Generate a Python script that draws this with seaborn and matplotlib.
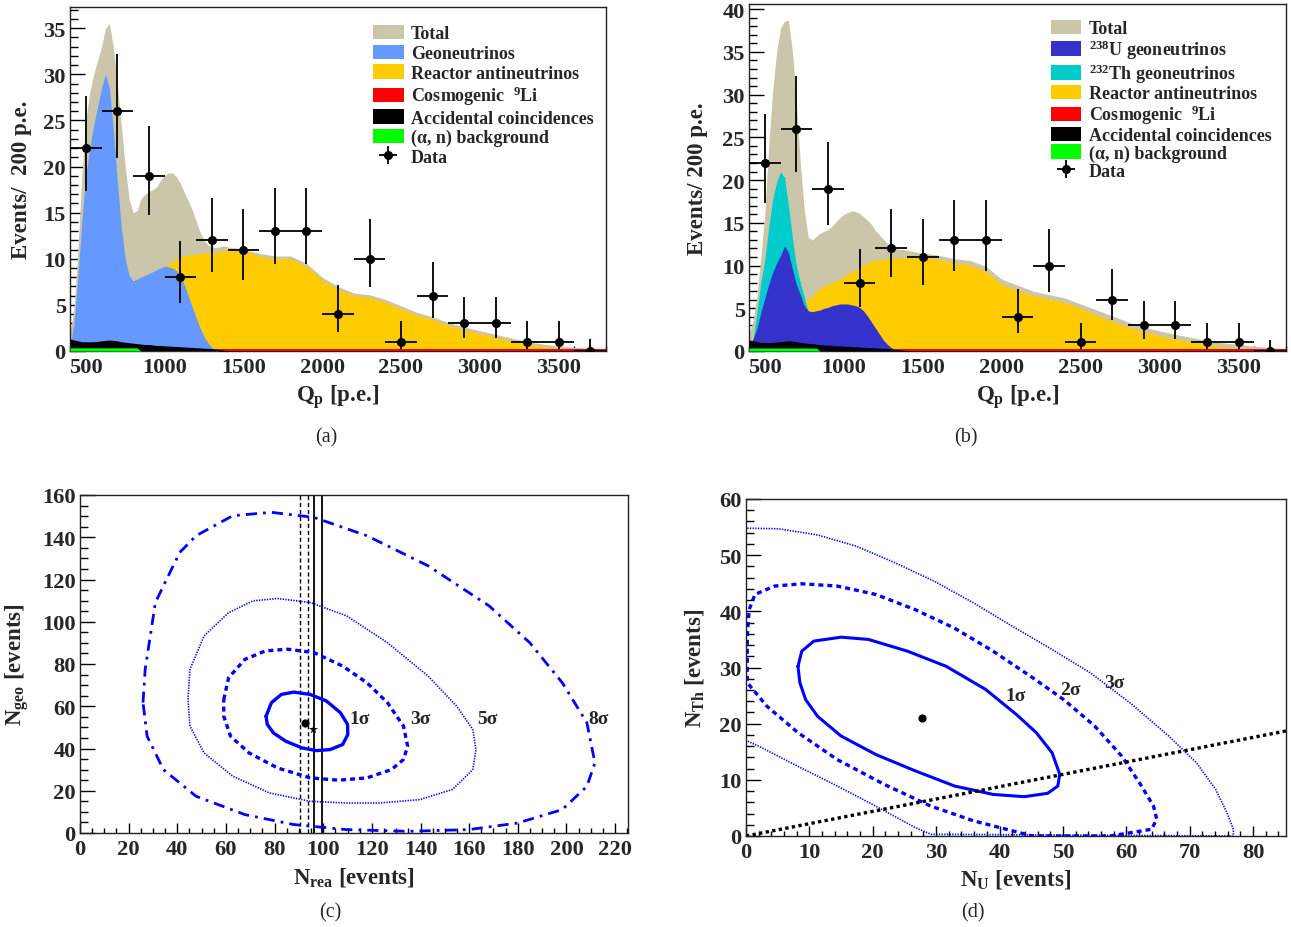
import matplotlib
matplotlib.use("Agg")
import matplotlib.pyplot as plt
import seaborn as sns
from matplotlib.ticker import MultipleLocator
from matplotlib.patches import Patch

# ------------------------------------------------------------------ data
q_pe = [400, 425, 450, 475, 500, 525, 550, 575, 600, 625, 650, 675, 700, 725, 750, 775,
        800, 825, 850, 875, 900, 925, 950, 975, 1000, 1025, 1050, 1075, 1100, 1125, 1150,
        1175, 1200, 1225, 1250, 1275, 1300, 1325, 1350, 1375, 1400, 1425, 1450, 1475, 1500,
        1600, 1700, 1800, 1900, 2000, 2100, 2200, 2300, 2400, 2500, 2600, 2700, 2800, 2900,
        3000, 3100, 3200, 3300, 3400, 3500, 3600, 3700, 3800]

# panel (a)
total_a = [2.0, 4.5, 11, 19, 25, 28, 30, 31.5, 33, 35, 35.5, 33, 29, 24.5, 20, 16.5,
           15, 15.2, 16.5, 17, 17.3, 17.5, 17.8, 18.5, 19, 19.3, 19.3, 18.9, 18.2, 17.2, 16.3,
           15.3, 14.1, 12.9, 12, 11.5, 11.3, 11.2, 11.3, 11.4, 11.3, 11.2, 11.2, 11.1, 11.0,
           10.6, 10.3, 10.3, 9.5, 8.0, 7.0, 6.3, 6.1, 5.6, 4.9, 4.2, 3.7, 3.1, 2.6,
           2.2, 1.8, 1.4, 1.0, 0.75, 0.55, 0.4, 0.3, 0.25]
reactor_a = [0.3, 0.6, 1.0, 1.4, 1.8, 2.2, 2.6, 3.0, 3.4, 3.8, 4.2, 4.7, 5.1, 5.5, 5.9, 6.3,
             6.6, 7.0, 7.3, 7.6, 7.9, 8.2, 8.5, 8.8, 9.1, 9.4, 9.7, 10.0, 10.2, 10.3, 10.4,
             10.5, 10.5, 10.6, 10.6, 10.7, 10.7, 10.7, 10.8, 10.9, 10.9, 10.9, 10.9, 10.8, 10.8,
             10.3, 10.0, 10.0, 9.2, 7.7, 6.7, 6.0, 5.8, 5.3, 4.6, 3.9, 3.4, 2.8, 2.3,
             1.9, 1.5, 1.1, 0.75, 0.5, 0.3, 0.15, 0.06, 0.02]
geo_a = [0.5, 3, 8, 14, 19, 22, 24.5, 26.5, 28.5, 30, 28.5, 24, 18.5, 13.5, 10, 8.2,
         7.6, 7.8, 8.0, 8.2, 8.4, 8.6, 8.8, 9.0, 9.2, 9.1, 9.0, 8.7, 8.0, 7.2, 6.0,
         4.8, 3.6, 2.5, 1.6, 0.9, 0.4, 0.15, 0, 0, 0, 0, 0, 0, 0,
         0, 0, 0, 0, 0, 0, 0, 0, 0, 0, 0, 0, 0, 0,
         0, 0, 0, 0, 0, 0, 0, 0, 0]

# backgrounds (shared by both spectra)
accidental = [1.3, 1.2, 1.1, 1.0, 1.0, 1.0, 1.0, 1.05, 1.1, 1.15, 1.2, 1.15, 1.1, 1.0, 0.95, 0.9,
              0.85, 0.8, 0.75, 0.7, 0.7, 0.65, 0.6, 0.6, 0.55, 0.55, 0.5, 0.5, 0.45, 0.45, 0.4,
              0.4, 0.35, 0.35, 0.3, 0.3, 0.25, 0.2, 0.15, 0.1, 0.05, 0.02, 0, 0, 0,
              0, 0, 0, 0, 0, 0, 0, 0, 0, 0, 0, 0, 0, 0,
              0, 0, 0, 0, 0, 0, 0, 0, 0]
li9 = [0.25, 0.25, 0.25, 0.25, 0.25, 0.25, 0.25, 0.25, 0.25, 0.25, 0.25, 0.25, 0.25, 0.25, 0.25, 0.25,
       0.25, 0.25, 0.25, 0.25, 0.25, 0.25, 0.25, 0.25, 0.25, 0.25, 0.25, 0.25, 0.25, 0.25, 0.25,
       0.25, 0.25, 0.25, 0.25, 0.25, 0.25, 0.25, 0.25, 0.25, 0.25, 0.25, 0.25, 0.25, 0.25,
       0.25, 0.25, 0.25, 0.25, 0.25, 0.25, 0.25, 0.25, 0.25, 0.25, 0.25, 0.25, 0.25, 0.25,
       0.25, 0.25, 0.25, 0.25, 0.25, 0.25, 0.25, 0.25, 0.25]
alpha_n = [0.35, 0.35, 0.35, 0.35, 0.35, 0.35, 0.35, 0.35, 0.35, 0.35, 0.35, 0.35, 0.35, 0.35, 0.35, 0.35,
           0.35, 0.35, 0, 0, 0, 0, 0, 0, 0, 0, 0, 0, 0, 0, 0,
           0, 0, 0, 0, 0, 0, 0, 0, 0, 0, 0, 0, 0, 0,
           0, 0, 0, 0, 0, 0, 0, 0, 0, 0, 0, 0, 0, 0,
           0, 0, 0, 0, 0, 0, 0, 0, 0]

# panel (b)
total_b = [2.0, 3.5, 6.5, 11, 16, 24, 30.5, 35, 37.8, 38.6, 38.7, 35, 29.3, 22, 16.5, 13.3,
           13.0, 13.4, 13.8, 14.0, 14.2, 14.6, 15.1, 15.6, 16.0, 16.2, 16.4, 16.3, 16.1, 15.7, 15.3,
           14.8, 14.1, 13.6, 13.1, 12.6, 12.2, 12.0, 11.9, 11.9, 11.8, 11.7, 11.6, 11.5, 11.5,
           11.2, 10.8, 10.6, 9.9, 8.4, 7.7, 7.0, 6.6, 6.2, 5.5, 4.8, 4.1, 3.4, 2.8,
           2.35, 1.95, 1.6, 1.2, 0.95, 0.75, 0.55, 0.4, 0.3]
reactor_b = [0.3, 0.6, 1.0, 1.4, 1.8, 2.3, 2.8, 3.3, 3.8, 4.3, 4.7, 5.1, 5.5, 5.8, 6.0, 6.1,
             6.3, 6.9, 7.3, 7.6, 7.8, 8.0, 8.2, 8.4, 8.7, 9.0, 9.3, 9.5, 9.8, 10.1, 10.3,
             10.5, 10.6, 10.7, 10.7, 10.8, 10.8, 10.9, 10.9, 10.9, 11.0, 11.0, 11.0, 11.0, 11.0,
             10.7, 10.3, 10.1, 9.3, 7.8, 7.1, 6.5, 6.1, 5.7, 5.0, 4.2, 3.5, 2.8, 2.25,
             1.8, 1.4, 1.05, 0.7, 0.45, 0.3, 0.15, 0.05, 0.02]
th_b = [0.3, 1.2, 4.5, 8, 10.7, 14.5, 17.8, 19.8, 21, 20.3, 17, 13.2, 9.9, 8.0, 6.3, 4.6,
        3.5, 2.0, 1.0, 0.4, 0, 0, 0, 0, 0, 0, 0, 0, 0, 0, 0,
        0, 0, 0, 0, 0, 0, 0, 0, 0, 0, 0, 0, 0, 0,
        0, 0, 0, 0, 0, 0, 0, 0, 0, 0, 0, 0, 0, 0,
        0, 0, 0, 0, 0, 0, 0, 0, 0]
u_b = [0.4, 1.4, 2.6, 4.5, 6.2, 7.8, 9.2, 10.3, 11.2, 12.3, 11.5, 9.6, 7.8, 6.6, 5.3, 4.7,
       4.6, 4.7, 4.8, 5.0, 5.1, 5.3, 5.4, 5.5, 5.5, 5.5, 5.4, 5.3, 5.1, 4.7, 4.1,
       3.4, 2.7, 2.0, 1.3, 0.8, 0.4, 0.15, 0, 0, 0, 0, 0, 0, 0,
       0, 0, 0, 0, 0, 0, 0, 0, 0, 0, 0, 0, 0, 0,
       0, 0, 0, 0, 0, 0, 0, 0, 0]

# data points
data_q = [500, 700, 900, 1100, 1300, 1500, 1700, 1900, 2100, 2300, 2500, 2700, 2900, 3100, 3300, 3500, 3700]
data_n = [22, 26, 19, 8, 12, 11, 13, 13, 4, 10, 1, 6, 3, 3, 1, 1, 0]
data_elo = [4.7, 5.1, 4.3, 2.8, 3.4, 3.3, 3.6, 3.6, 1.9, 3.1, 0.8, 2.4, 1.6, 1.6, 0.8, 0.8, 0.0]
data_ehi = [5.7, 6.2, 5.4, 3.9, 4.6, 4.4, 4.7, 4.7, 3.2, 4.3, 2.3, 3.6, 2.9, 2.9, 2.3, 2.3, 1.3]
bin_half = 100

# panel (c) contours: N_rea, N_geo
c1_x = [76.5, 78.7, 82.8, 87.9, 94.6, 101.3, 107.1, 110.0, 110.1, 108.0, 102.9, 97.1, 91.2, 84.5, 79.5, 77.0, 76.5]
c1_y = [55.3, 61.7, 65.6, 66.7, 65.6, 62.5, 56.9, 51.4, 46.6, 41.9, 39.5, 39.0, 40.3, 43.5, 47.4, 51.4, 55.3]
c3_x = [59.1, 61.1, 67.8, 76.2, 85.4, 96.2, 108.0, 118.0, 126.4, 133.0, 134.7, 133.0, 128.0, 118.0, 106.3,
        94.6, 81.2, 69.5, 61.9, 59.1, 59.1]
c3_y = [63.2, 73.5, 82.2, 86.2, 87.0, 85.4, 79.0, 71.1, 61.7, 50.6, 41.1, 34.8, 30.0, 26.1, 25.0,
        26.1, 30.8, 37.9, 45.8, 55.3, 63.2]
c5_x = [44.4, 45.2, 51.0, 61.1, 71.1, 81.2, 94.6, 109.6, 126.4, 143.1, 154.8, 161.5, 162.8, 161.5, 153.1,
        139.7, 123.0, 109.6, 94.6, 77.8, 62.8, 51.0, 45.2, 44.4]
c5_y = [63.2, 77.5, 93.3, 104.3, 109.9, 111.0, 109.1, 102.8, 90.1, 74.3, 60.1, 49.0, 39.5, 30.0, 20.6,
        15.8, 14.2, 14.2, 15.0, 19.0, 26.9, 37.9, 50.6, 63.2]
c8_x = [25.9, 26.8, 31.0, 34.3, 41.0, 47.7, 62.8, 78.7, 96.2, 118.0, 143.1, 168.2, 184.9, 198.3, 208.4,
        211.7, 208.4, 198.3, 179.9, 159.8, 134.7, 109.6, 87.9, 67.8, 47.7, 34.3, 27.6, 25.9]
c8_y = [61.7, 77.5, 109.1, 117.0, 132.8, 140.7, 150.2, 151.8, 149.4, 140.7, 126.5, 107.5, 90.1, 71.1, 52.2,
        33.2, 22.1, 11.1, 4.7, 1.6, 0.8, 1.6, 4.0, 8.7, 17.4, 30.0, 45.8, 61.7]
rea_dashed = [90.5, 93.7]
rea_solid = [96.0, 99.6]
best_c = (92.6, 51.9)
star_c = (95.6, 49.0)
labels_c = ["1σ", "3σ", "5σ", "8σ"]
labels_c_x = [115, 140, 167.5, 213]
labels_c_y = [54, 54, 54, 54]

# panel (d) contours: N_U, N_Th
d1_x = [8.2, 8.8, 10.7, 15.0, 19.3, 25.5, 31.6, 37.8, 42.7, 45.8, 48.3, 49.5, 49.2, 47.6, 43.9, 39.0,
        32.9, 26.7, 20.5, 15.0, 11.3, 9.4, 8.5, 8.2]
d1_y = [30.2, 32.9, 34.7, 35.4, 35.0, 32.9, 30.2, 26.1, 21.6, 18.4, 14.8, 11.0, 8.9, 7.6, 7.0, 7.4,
        8.9, 11.6, 14.5, 17.8, 21.3, 24.3, 27.3, 30.2]
d2_x = [0.2, 0.5, 1.4, 4.5, 8.8, 14.4, 20.5, 26.7, 32.9, 39.0, 45.2, 50.1, 55.0, 59.3, 62.4, 64.3, 64.8,
        64.0, 57.5, 45.2, 42.1, 35.9, 29.2, 21.8, 14.4, 8.2, 3.3, 0.2, 0.2]
d2_y = [35.6, 40.3, 43.0, 44.5, 44.9, 44.5, 43.0, 40.3, 37.0, 32.9, 28.2, 24.3, 19.6, 14.2, 8.9, 5.3, 3.0,
        1.2, 0.0, 0.0, 0.9, 2.7, 5.3, 9.2, 13.6, 18.4, 23.1, 27.3, 35.6]
d3_x = [0.2, 5.1, 11.3, 17.4, 23.6, 29.8, 35.9, 42.1, 48.3, 54.4, 60.6, 66.7, 71.1, 74.1, 75.9, 76.9, 76.9,
        29.2, 26.7, 20.5, 14.4, 8.2, 2.0, 0.2]
d3_y = [54.8, 54.7, 53.6, 51.6, 48.6, 45.3, 41.5, 37.3, 33.2, 29.0, 23.7, 17.8, 13.0, 8.3, 4.1, 1.2, 0.0,
        0.3, 1.5, 5.3, 8.9, 12.4, 16.0, 16.9]
th_u_line_x = [0, 85.2]
th_u_line_y = [0, 18.7]
best_d = (27.7, 21.0)
labels_d = ["1σ", "2σ", "3σ"]
labels_d_x = [42.6, 51.2, 58.1]
labels_d_y = [25.0, 26.1, 27.3]

# ------------------------------------------------------------------ style
sns.set_theme(style="ticks")
plt.rcParams["font.family"] = ["Liberation Serif", "DejaVu Serif"]
plt.rcParams["font.weight"] = "bold"
plt.rcParams["axes.labelweight"] = "bold"
plt.rcParams["mathtext.fontset"] = "custom"
plt.rcParams["mathtext.rm"] = "Liberation Serif:bold"
plt.rcParams["mathtext.bf"] = "Liberation Serif:bold"
plt.rcParams["mathtext.it"] = "Liberation Serif:italic:bold"
plt.rcParams["mathtext.default"] = "rm"

C_TOTAL = "#CBC6A9"
C_GEO = "#6699FF"
C_REA = "#FFCC00"
C_LI = "#FF0000"
C_ACC = "#000000"
C_AN = "#00FF00"
C_U = "#3333CC"
C_TH = "#00CCCC"
C_CONT = "#0000FF"

W, H = 1291, 928
fig = plt.figure(figsize=(W / 100, H / 100), dpi=100)


def add_ax(l, t, r, b):
    return fig.add_axes([l / W, 1 - b / H, (r - l) / W, (b - t) / H])


def style(ax, xmaj, xmin, ymaj, ymin):
    ax.xaxis.set_major_locator(MultipleLocator(xmaj))
    ax.xaxis.set_minor_locator(MultipleLocator(xmin))
    ax.yaxis.set_major_locator(MultipleLocator(ymaj))
    ax.yaxis.set_minor_locator(MultipleLocator(ymin))
    ax.tick_params(which="both", direction="in", top=False, right=False, width=1.0, color="black")
    ax.tick_params(axis="y", which="major", length=11, pad=3, labelsize=16.2)
    ax.tick_params(axis="y", which="minor", length=5.5)
    ax.tick_params(axis="x", which="major", length=7, pad=4, labelsize=16.2)
    ax.tick_params(axis="x", which="minor", length=3.5)
    for s in ax.spines.values():
        s.set_linewidth(1.0)
        s.set_color("#222222")
    ax.grid(False)


def fill(ax, y, color, z):
    ax.fill_between(q_pe, 0, y, color=color, lw=0, zorder=z)


def data_points(ax):
    return ax.errorbar(data_q, data_n, yerr=[data_elo, data_ehi], xerr=bin_half, fmt="o",
                       ms=5.5, color="black", ecolor="black", elinewidth=1.3, capsize=0, zorder=10)


leg_kw = dict(prop={"size": 13, "weight": "bold"}, frameon=False, handlelength=1.7,
              handleheight=0.85, handletextpad=0.4, labelspacing=0.12, borderpad=0,
              borderaxespad=0, loc="upper left")

# ---------------- (a)
ax_a = add_ax(70, 8, 606, 352)
fill(ax_a, total_a, C_TOTAL, 1)
fill(ax_a, reactor_a, C_REA, 2)
fill(ax_a, geo_a, C_GEO, 3)
fill(ax_a, li9, C_LI, 4)
fill(ax_a, accidental, C_ACC, 5)
fill(ax_a, alpha_n, C_AN, 6)
eb_a = data_points(ax_a)
ax_a.set_xlim(400, 3800)
ax_a.set_ylim(0, 37.3)
style(ax_a, 500, 100, 5, 1)
ax_a.set_xlabel(r"Q$_\mathrm{p}$ [p.e.]", fontsize=16.5)
ax_a.set_ylabel("Events/  200 p.e.", fontsize=16.5)
ax_a.xaxis.set_label_coords(0.5, -0.09)
ax_a.yaxis.set_label_coords(-0.07, 0.5)
h_a = [Patch(facecolor=C_TOTAL, edgecolor="none"), Patch(facecolor=C_GEO, edgecolor="none"),
       Patch(facecolor=C_REA, edgecolor="none"), Patch(facecolor=C_LI, edgecolor="none"),
       Patch(facecolor=C_ACC, edgecolor="none"), Patch(facecolor=C_AN, edgecolor="none"), eb_a]
l_a = ["Total", "Geoneutrinos", "Reactor antineutrinos", r"Cosmogenic  $^{9}$Li",
       "Accidental coincidences", "(α, n) background", "Data"]
ax_a.legend(h_a, l_a, bbox_to_anchor=(0.565, 0.948), **leg_kw)

# ---------------- (b)
ax_b = add_ax(749, 5, 1286, 352)
fill(ax_b, total_b, C_TOTAL, 1)
fill(ax_b, reactor_b, C_REA, 2)
fill(ax_b, th_b, C_TH, 3)
fill(ax_b, u_b, C_U, 4)
fill(ax_b, li9, C_LI, 5)
fill(ax_b, accidental, C_ACC, 6)
fill(ax_b, alpha_n, C_AN, 7)
eb_b = data_points(ax_b)
ax_b.set_xlim(400, 3800)
ax_b.set_ylim(0, 40.6)
style(ax_b, 500, 100, 5, 1)
ax_b.set_xlabel(r"Q$_\mathrm{p}$ [p.e.]", fontsize=16.5)
ax_b.set_ylabel("Events/ 200 p.e.", fontsize=16.5)
ax_b.xaxis.set_label_coords(0.5, -0.09)
ax_b.yaxis.set_label_coords(-0.077, 0.5)
h_b = [Patch(facecolor=C_TOTAL, edgecolor="none"), Patch(facecolor=C_U, edgecolor="none"),
       Patch(facecolor=C_TH, edgecolor="none"), Patch(facecolor=C_REA, edgecolor="none"),
       Patch(facecolor=C_LI, edgecolor="none"), Patch(facecolor=C_ACC, edgecolor="none"),
       Patch(facecolor=C_AN, edgecolor="none"), eb_b]
l_b = ["Total", r"$^{238}$U geoneutrinos", r"$^{232}$Th geoneutrinos", "Reactor antineutrinos",
       r"Cosmogenic  $^{9}$Li", "Accidental coincidences", "(α, n) background", "Data"]
leg_b_kw = dict(leg_kw)
leg_b_kw["labelspacing"] = 0.02
ax_b.legend(h_b, l_b, bbox_to_anchor=(0.562, 0.955), **leg_b_kw)

# ---------------- (c)
ax_c = add_ax(80, 496, 628, 834)
for xv in rea_dashed:
    ax_c.axvline(xv, color="black", lw=1.0, ls=(0, (3, 2)), zorder=2)
for xv in rea_solid:
    ax_c.axvline(xv, color="black", lw=1.3, zorder=2)
sns.lineplot(x=c1_x, y=c1_y, sort=False, estimator=None, ax=ax_c, color=C_CONT, lw=2.4)
sns.lineplot(x=c3_x, y=c3_y, sort=False, estimator=None, ax=ax_c, color=C_CONT, lw=2.4)
ax_c.lines[-1].set_dashes([1.5, 1.2])
sns.lineplot(x=c5_x, y=c5_y, sort=False, estimator=None, ax=ax_c, color=C_CONT, lw=1.2)
ax_c.lines[-1].set_dashes([0.8, 0.8])
sns.lineplot(x=c8_x, y=c8_y, sort=False, estimator=None, ax=ax_c, color=C_CONT, lw=2.0)
ax_c.lines[-1].set_dashes([4, 2.2, 1, 2.2])
sns.scatterplot(x=[best_c[0]], y=[best_c[1]], ax=ax_c, color="black", s=35, marker="o",
                linewidth=0, zorder=5)
sns.scatterplot(x=[star_c[0]], y=[star_c[1]], ax=ax_c, color="black", s=45, marker="*",
                linewidth=0, zorder=5)
for t, xv, yv in zip(labels_c, labels_c_x, labels_c_y):
    ax_c.text(xv, yv, t, ha="center", va="center", fontsize=14, fontweight="bold")
ax_c.set_xlim(0, 225.3)
ax_c.set_ylim(0, 160)
style(ax_c, 20, 5, 20, 5)
ax_c.set_xlabel(r"N$_\mathrm{rea}$ [events]", fontsize=16.5)
ax_c.set_ylabel(r"N$_\mathrm{geo}$ [events]", fontsize=16.5)
ax_c.xaxis.set_label_coords(0.5, -0.095)
ax_c.yaxis.set_label_coords(-0.09, 0.5)

# ---------------- (d)
ax_d = add_ax(746, 500, 1286, 837)
sns.lineplot(x=d1_x, y=d1_y, sort=False, estimator=None, ax=ax_d, color=C_CONT, lw=2.2)
sns.lineplot(x=d2_x, y=d2_y, sort=False, estimator=None, ax=ax_d, color=C_CONT, lw=2.4)
ax_d.lines[-1].set_dashes([1.5, 1.2])
sns.lineplot(x=d3_x, y=d3_y, sort=False, estimator=None, ax=ax_d, color=C_CONT, lw=1.2)
ax_d.lines[-1].set_dashes([0.8, 0.8])
sns.lineplot(x=th_u_line_x, y=th_u_line_y, sort=False, estimator=None, ax=ax_d, color="black", lw=2.4)
ax_d.lines[-1].set_dashes([1.0, 1.0])
sns.scatterplot(x=[best_d[0]], y=[best_d[1]], ax=ax_d, color="black", s=35, marker="o",
                linewidth=0, zorder=5)
for t, xv, yv in zip(labels_d, labels_d_x, labels_d_y):
    ax_d.text(xv, yv, t, ha="center", va="center", fontsize=14, fontweight="bold")
ax_d.set_xlim(0, 85.2)
ax_d.set_ylim(0, 60)
style(ax_d, 10, 2, 10, 2)
ax_d.set_xlabel(r"N$_\mathrm{U}$ [events]", fontsize=16.5)
ax_d.set_ylabel(r"N$_\mathrm{Th}$ [events]", fontsize=16.5)
ax_d.xaxis.set_label_coords(0.5, -0.092)
ax_d.yaxis.set_label_coords(-0.074, 0.5)

# ---------------- captions
for txt, xc, yc in [("(a)", 326, 438), ("(b)", 966, 438), ("(c)", 330, 913), ("(d)", 973, 913)]:
    fig.text(xc / W, 1 - yc / H, txt, ha="center", va="center", fontsize=14.5, fontweight="normal")

fig.savefig("out.png", dpi=100)
